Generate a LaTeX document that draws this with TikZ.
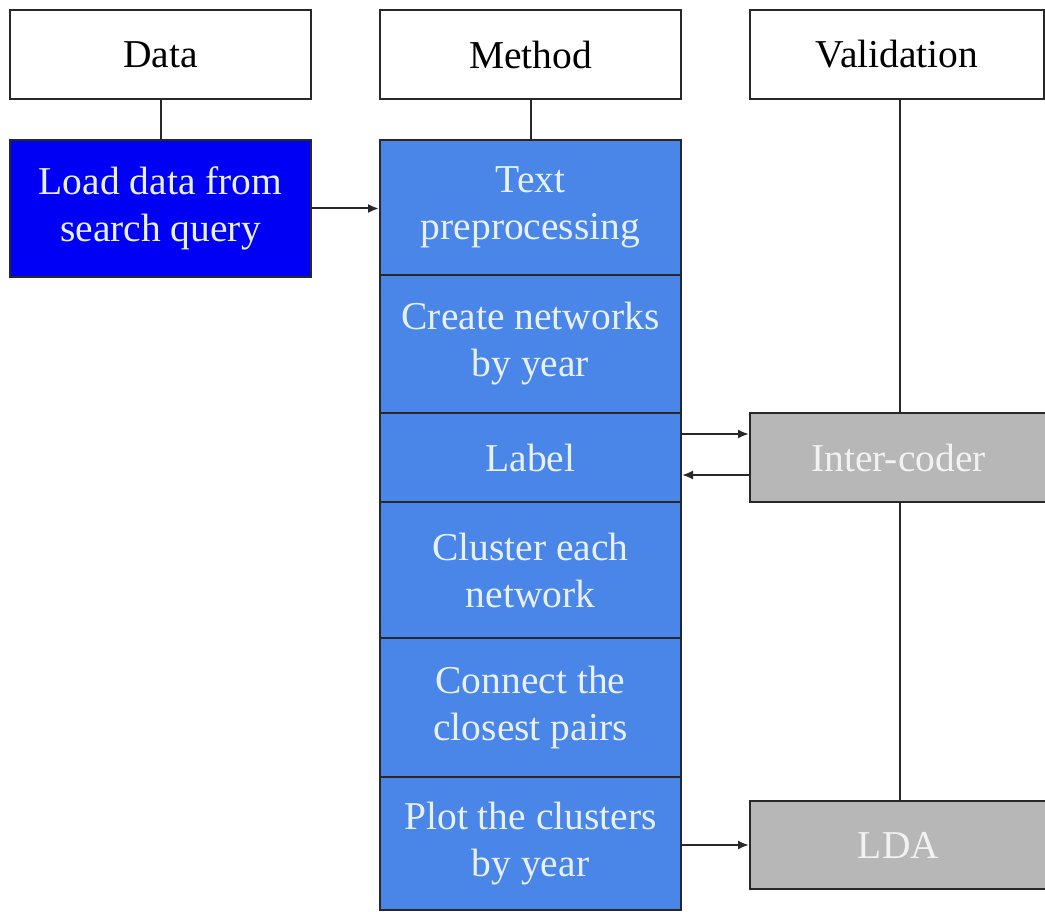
\documentclass[tikz,border=0pt]{standalone}
\usepackage{fontspec}
\setmainfont{Liberation Serif}
\usetikzlibrary{arrows.meta}
\definecolor{loadblue}{RGB}{0,0,245}
\definecolor{methblue}{RGB}{74,134,232}
\definecolor{valgray}{RGB}{183,183,183}
\definecolor{edge}{RGB}{40,40,40}
\definecolor{lighttxt}{RGB}{232,240,252}
\begin{document}
\begin{tikzpicture}[x=1pt,y=-1pt,
  box/.style={draw=edge, line width=2pt, inner sep=0pt, align=center,
    font=\fontsize{39.5}{47}\selectfont},
  hdr/.style={box, fill=white, text=black, minimum width=301pt, minimum height=89pt},
  loadbox/.style={box, fill=loadblue, text=lighttxt, minimum width=301pt},
  methbox/.style={box, fill=methblue, text=lighttxt, minimum width=301pt},
  valbox/.style={box, fill=valgray, text=white!95!black, minimum width=297pt},
  link/.style={draw=edge, line width=2pt},
  arr/.style={link, -{Latex[length=11pt,width=9pt]}}]
\useasboundingbox (0,0) rectangle (1045,912);
% headers
\node[hdr] (data) at (160.5,54.5) {Data};
\node[hdr] (method) at (530.5,54.5) {Method};
\node[hdr, minimum width=294pt] (valid) at (897,54.5) {Validation};
% data box
\node[loadbox, minimum height=137pt] (load) at (160.5,208.5) {Load data from\\search query};
% method stack
\node[methbox, minimum height=135pt] (m1) at (530.5,207.5) {Text\\preprocessing};
\node[methbox, minimum height=138pt] (m2) at (530.5,344) {Create networks\\by year};
\node[methbox, minimum height=89pt] (m3) at (530.5,457.5) {Label};
\node[methbox, minimum height=136pt] (m4) at (530.5,570) {Cluster each\\network};
\node[methbox, minimum height=139pt] (m5) at (530.5,707.5) {Connect the\\closest pairs};
\node[methbox, minimum height=133pt] (m6) at (530.5,843.5) {Plot the clusters\\by year};
% validation boxes
\node[valbox, minimum height=89pt] (inter) at (898.5,457.5) {Inter-coder};
\node[valbox, minimum height=88pt] (lda) at (898.5,845) {LDA};
% connectors
\draw[link] (data.south) -- (load.north);
\draw[link] (method.south) -- (m1.north);
\draw[link] ([xshift=3pt]valid.south) -- ([xshift=3pt]valid.south |- inter.north);
\draw[link] ([xshift=1.5pt]inter.south) -- ([xshift=1.5pt]inter.south |- lda.north);
\draw[arr] (load.east) -- (load.east -| m1.west);
\draw[arr] ([yshift=23.5pt]m3.east) -- ([yshift=23.5pt]m3.east -| inter.west);
\draw[arr] ([yshift=-17.5pt]m3.east -| inter.west) -- ([yshift=-17.5pt]m3.east);
\draw[arr] (lda.west -| m6.east) -- (lda.west);
\end{tikzpicture}
\end{document}
